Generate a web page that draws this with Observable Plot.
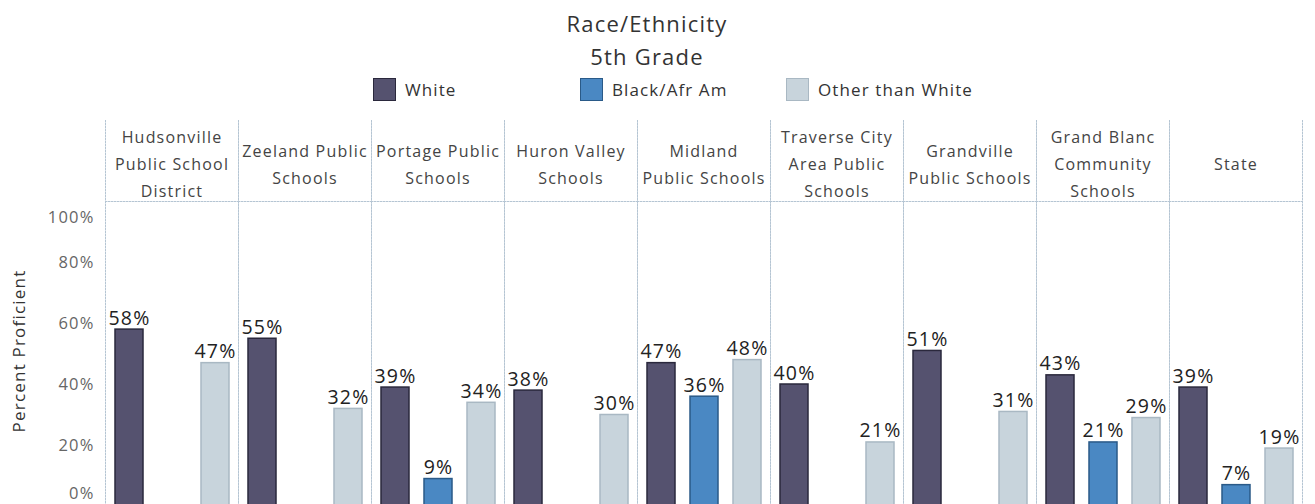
<!DOCTYPE html>
<html>
<head>
<meta charset="utf-8">
<script src="https://cdn.jsdelivr.net/npm/d3@7"></script>
<script src="https://cdn.jsdelivr.net/npm/@observablehq/plot@0.6"></script>
<style>
  html, body { margin: 0; padding: 0; background: #fff; width: 1315px; height: 504px; overflow: hidden; }
  body { font-family: "Open Sans", sans-serif; color: #333; }
  #head { position: relative; height: 110px; width: 1315px; }
  #title { position: absolute; left: 0; width: 1294px; top: 7px; text-align: center; font-size: 22px; line-height: 33px; color: #333; letter-spacing: 1.2px; }
  .lg { position: absolute; top: 77px; height: 24px; display: flex; align-items: center; font-size: 17px; color: #333; letter-spacing: 1.1px; }
  .sw { width: 23px; height: 23px; box-sizing: border-box; border: 1.5px solid; margin-right: 9px; }
</style>
</head>
<body>
<div id="head">
  <div id="title">Race/Ethnicity<br>5th Grade</div>
</div>
<div id="chart"></div>
<script>
const districts = [
  "Hudsonville Public School District",
  "Zeeland Public Schools",
  "Portage Public Schools",
  "Huron Valley Schools",
  "Midland Public Schools",
  "Traverse City Area Public Schools",
  "Grandville Public Schools",
  "Grand Blanc Community Schools",
  "State"
];
const headerLabels = [
  "Hudsonville\nPublic School\nDistrict",
  "Zeeland Public\nSchools",
  "Portage Public\nSchools",
  "Huron Valley\nSchools",
  "Midland\nPublic Schools",
  "Traverse City\nArea Public\nSchools",
  "Grandville\nPublic Schools",
  "Grand Blanc\nCommunity\nSchools",
  "State"
];
const races = ["White", "Black/Afr Am", "Other than White"];
const whiteValues = [58, 55, 39, 38, 47, 40, 51, 43, 39];
const blackValues = [null, null, 9, null, 36, null, null, 21, 7];
const otherValues = [47, 32, 34, 30, 48, 21, 31, 29, 19];
const yTicks = [0, 20, 40, 60, 80, 100];

const fills = ["#55526f", "#4a88c3", "#c8d4dc"];
const strokes = ["#2a283c", "#2a5a88", "#a9b8c3"];
const legendX = [373, 580, 786];

// legend
const head = document.getElementById("head");
races.forEach((r, i) => {
  const el = document.createElement("div");
  el.className = "lg";
  el.style.left = legendX[i] + "px";
  el.innerHTML = `<div class="sw" style="background:${fills[i]};border-color:${strokes[i]}"></div><span>${r}</span>`;
  head.appendChild(el);
});

const seriesValues = [whiteValues, blackValues, otherValues];
const rows = [];
districts.forEach((d, j) => {
  races.forEach((r, i) => {
    const v = seriesValues[i][j];
    if (v != null) rows.push({district: d, race: r, value: v});
  });
});
const headers = districts.map((d, j) => ({district: d, label: headerLabels[j]}));

const gridStyle = {stroke: "#b5c5d3", strokeWidth: 1, strokeDasharray: "1.5,1.5"};
const tickStyle = {tickSize: 0, tickPadding: 11, tickFormat: d => d + "%", fontSize: 16.5, fill: "#666", label: null};

const chart = Plot.plot({
  width: 1315,
  height: 396,
  marginTop: 91,
  marginBottom: 0,
  marginLeft: 104,
  marginRight: 13,
  style: {fontFamily: "'Open Sans', sans-serif", background: "transparent", overflow: "visible", letterSpacing: "1.2px"},
  fx: {domain: districts, padding: 0, axis: null},
  x: {domain: races, paddingInner: 0.356, paddingOuter: 0.207, axis: null},
  y: {domain: [0, 100], axis: null},
  marks: [
    Plot.frame({anchor: "left", insetTop: -81, ...gridStyle}),
    Plot.frame({anchor: "right", insetTop: -81, ...gridStyle}),
    Plot.frame({anchor: "top", ...gridStyle}),
    ...races.map((r, i) => Plot.barY(rows.filter(d => d.race === r), {
      fx: "district", x: "race", y: "value",
      fill: fills[i], stroke: strokes[i], strokeWidth: 1.5
    })),
    Plot.text(rows, {
      fx: "district", x: "race", y: "value",
      text: d => d.value + "%", dy: -5, lineAnchor: "bottom",
      fontSize: 19.5, fill: "#222"
    }),
    Plot.text(headers, {
      fx: "district", text: "label", frameAnchor: "top", dy: -40,
      lineAnchor: "middle", lineHeight: 1.7, fontSize: 16, fill: "#444"
    }),
    Plot.axisY(yTicks.filter(t => t > 0 && t < 100), tickStyle),
    Plot.axisY([yTicks[yTicks.length - 1]], {...tickStyle, dy: 16}),
    Plot.axisY([yTicks[0]], {...tickStyle, dy: -13}),
    Plot.text([{district: districts[0], t: "Percent Proficient"}], {
      fx: "district", text: "t", frameAnchor: "left", dx: -86, dy: -3,
      rotate: -90, textAnchor: "middle", fontSize: 17, fill: "#333"
    })
  ]
});
document.getElementById("chart").appendChild(chart);
</script>
</body>
</html>
